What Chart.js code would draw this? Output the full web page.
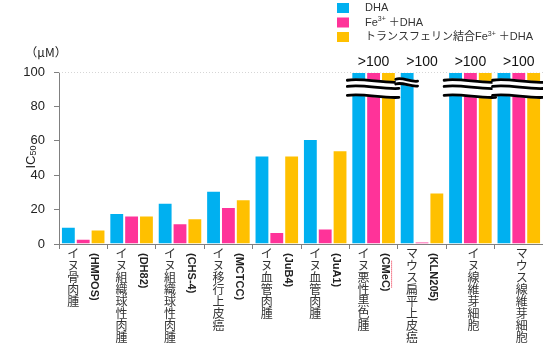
<!DOCTYPE html>
<html>
<head>
<meta charset="utf-8">
<script src="https://cdn.jsdelivr.net/npm/chart.js@4/dist/chart.umd.min.js"></script>
<style>
  html, body { margin: 0; padding: 0; background: #fff; }
  canvas { display: block; }
</style>
</head>
<body>
<canvas id="ic50Chart" width="543" height="348"></canvas>
<script>
// Cell lines (Japanese name + cell line code)
const cellNames = ['イヌ骨肉腫', 'イヌ組織球性肉腫', 'イヌ組織球性肉腫', 'イヌ移行上皮癌', 'イヌ血管肉腫',
                   'イヌ血管肉腫', 'イヌ悪性黒色腫', 'マウス扁平上皮癌', 'イヌ線維芽細胞', 'マウス線維芽細胞'];
const cellCodes = ['(HMPOS)', '(DH82)', '(CHS-4)', '(MCTCC)', '(JuB4)', '(JuA1)', '(CMeC)', '(KLN205)', '', ''];

// IC50 (µM); 100 means the value is above the top of the axis (>100)
const dhaValues = [10, 18, 24, 31, 51.5, 61, 100, 100, 100, 100];
const feDhaValues = [3, 16.5, 12, 21.5, 7, 9, 100, 1.5, 100, 100];
const tfFeDhaValues = [8.5, 16.5, 15, 26, 51.5, 54.5, 100, 30, 100, 100];

const yTicks = [0, 20, 40, 60, 80, 100];
const overLabel = '>100';

const LATIN = '"Liberation Sans", Arial, "Noto Sans CJK JP", sans-serif';
const CJK = '"Noto Sans CJK JP", "Liberation Sans", sans-serif';

// legend with superscript "3+", drawn by hand
const legendItems = [
    { color: '#00B0F0', parts: [['DHA', false]] },
    { color: '#FF3399', parts: [['Fe', false], ['3+', true], [' ＋DHA', false]] },
    { color: '#FFC000', parts: [['トランスフェリン結合Fe', false], ['3+', true], [' ＋DHA', false]] }
];

const decorations = {
    id: 'decorations',
    beforeDatasetsDraw(chart) {
        const { ctx, scales: { y }, chartArea } = chart;
        // faint dotted line at the top value
        ctx.save();
        ctx.strokeStyle = '#d6d6d6';
        ctx.setLineDash([1, 2]);
        ctx.lineWidth = 1;
        const yt = Math.round(y.getPixelForValue(100)) + 0.5;
        ctx.beginPath();
        ctx.moveTo(chartArea.left, yt);
        ctx.lineTo(chartArea.right, yt);
        ctx.stroke();
        ctx.restore();
    },
    afterDraw(chart) {
        const { ctx, scales: { x, y } } = chart;
        const yMax = y.max;
        ctx.save();

        // axis unit and title
        ctx.fillStyle = '#222';
        ctx.font = '12px ' + CJK;
        ctx.textAlign = 'center';
        ctx.textBaseline = 'middle';
        ctx.fillText('（μM）', 46, 52);

        ctx.save();
        ctx.translate(31, 157);
        ctx.rotate(-Math.PI / 2);
        ctx.font = '13px ' + LATIN;
        ctx.textAlign = 'left';
        ctx.textBaseline = 'middle';
        const icW = ctx.measureText('IC').width;
        const subFont = '9px ' + LATIN;
        ctx.font = subFont;
        const subW = ctx.measureText('50').width;
        const startX = -(icW + subW) / 2;
        ctx.font = '13px ' + LATIN;
        ctx.fillText('IC', startX, 0);
        ctx.font = subFont;
        ctx.fillText('50', startX + icW, 3);
        ctx.restore();

        // break marks and ">100" labels where bars run off the axis
        x.getLabels().forEach((lab, i) => {
            const bars = [];
            chart.data.datasets.forEach((ds, d) => {
                if (ds.data[i] >= yMax) bars.push(chart.getDatasetMeta(d).data[i]);
            });
            if (!bars.length) return;
            const left = Math.min(...bars.map(b => b.x - b.width / 2)) - 4;
            const right = Math.max(...bars.map(b => b.x + b.width / 2)) + 3;
            const lines = bars.length > 1 ? [95.2, 91.6, 86.4] : [95.8, 93.0];
            const ys = lines.map(v => y.getPixelForValue(v));
            const wave = yy => {
                const w = right - left;
                return [left, yy, left + w * 0.3, yy - 2.5, left + w * 0.65, yy + 3, right, yy + 2];
            };
            // white gap between the outer strokes
            const top = wave(ys[0] - 1);
            const bot = wave(ys[ys.length - 1] + 1);
            ctx.fillStyle = '#fff';
            ctx.beginPath();
            ctx.moveTo(top[0], top[1]);
            ctx.bezierCurveTo(top[2], top[3], top[4], top[5], top[6], top[7]);
            ctx.lineTo(bot[6], bot[7]);
            ctx.bezierCurveTo(bot[4], bot[5], bot[2], bot[3], bot[0], bot[1]);
            ctx.closePath();
            ctx.fill();
            ctx.strokeStyle = '#000';
            ctx.lineWidth = 2.8;
            ctx.lineCap = 'round';
            ys.forEach(yy => {
                const p = wave(yy);
                ctx.beginPath();
                ctx.moveTo(p[0], p[1]);
                ctx.bezierCurveTo(p[2], p[3], p[4], p[5], p[6], p[7]);
                ctx.stroke();
            });

            ctx.fillStyle = '#111';
            ctx.font = '14px ' + LATIN;
            ctx.textAlign = 'center';
            ctx.textBaseline = 'middle';
            ctx.fillText(overLabel, x.getPixelForValue(i), y.getPixelForValue(yMax) - 10);
        });

        // category labels: vertical Japanese names and rotated cell line codes
        const y0 = chart.chartArea.bottom + 3;
        x.getLabels().forEach((name, i) => {
            const cx = x.getPixelForValue(i);
            const code = cellCodes[i];
            const jx = code ? cx - 10 : cx + 3;
            ctx.fillStyle = '#333';
            ctx.font = '12px ' + CJK;
            ctx.textAlign = 'center';
            ctx.textBaseline = 'top';
            [...name].forEach((ch, k) => ctx.fillText(ch, jx, y0 + k * 12));
            if (code) {
                ctx.save();
                ctx.translate(cx + 11, y0 + 6);
                ctx.rotate(Math.PI / 2);
                ctx.font = 'bold 11px ' + LATIN;
                ctx.textAlign = 'left';
                ctx.textBaseline = 'middle';
                ctx.fillStyle = '#222';
                ctx.fillText(code, 0, 0);
                if (code === '(CMeC)') {
                    const w = ctx.measureText(code).width;
                    ctx.strokeStyle = 'rgba(240,90,110,0.8)';
                    ctx.lineWidth = 1;
                    ctx.setLineDash([1, 1]);
                    ctx.beginPath();
                    ctx.moveTo(8, -7);
                    ctx.lineTo(w - 4, -7);
                    ctx.stroke();
                }
                ctx.restore();
            }
        });

        // legend
        legendItems.forEach((item, k) => {
            const ly = 8 + k * 14.5;
            ctx.fillStyle = item.color;
            ctx.fillRect(337, ly - 5, 12, 10);
            let tx = 365;
            ctx.fillStyle = '#333';
            ctx.textAlign = 'left';
            ctx.textBaseline = 'middle';
            item.parts.forEach(([txt, sup]) => {
                ctx.font = (sup ? '7px ' : '11px ') + LATIN;
                ctx.fillText(txt, tx, sup ? ly - 3 : ly);
                tx += ctx.measureText(txt).width;
            });
        });

        ctx.restore();
    }
};

const ctx = document.getElementById('ic50Chart').getContext('2d');
new Chart(ctx, {
    type: 'bar',
    data: {
        labels: cellNames,
        datasets: [
            { label: 'DHA', data: dhaValues, backgroundColor: '#00B0F0' },
            { label: 'Fe3+ + DHA', data: feDhaValues, backgroundColor: '#FF3399' },
            { label: 'トランスフェリン結合Fe3+ + DHA', data: tfFeDhaValues, backgroundColor: '#FFC000' }
        ]
    },
    options: {
        responsive: false,
        animation: false,
        devicePixelRatio: 1,
        layout: { padding: { top: 72, right: 0, left: 0, bottom: 0 } },
        datasets: {
            bar: {
                categoryPercentage: 0.92,
                barPercentage: 1.0,
                borderWidth: { top: 1, left: 1, right: 1, bottom: 0 },
                borderColor: 'rgba(255,255,255,0.55)'
            }
        },
        plugins: {
            legend: { display: false },
            tooltip: { enabled: false }
        },
        scales: {
            x: {
                grid: { display: true, offset: true, drawOnChartArea: false, tickLength: 5, color: '#808080' },
                border: { color: '#808080' },
                ticks: { display: false },
                afterFit(scale) { scale.height = 104; }
            },
            y: {
                min: 0,
                max: 100,
                afterBuildTicks(scale) { scale.ticks = yTicks.map(v => ({ value: v })); },
                grid: { drawOnChartArea: false, tickLength: 5, color: '#808080' },
                border: { color: '#808080' },
                ticks: {
                    font: { family: LATIN, size: 13 },
                    color: '#222',
                    padding: 9
                },
                afterFit(scale) { scale.width = 59; }
            }
        }
    },
    plugins: [decorations]
});
</script>
</body>
</html>
